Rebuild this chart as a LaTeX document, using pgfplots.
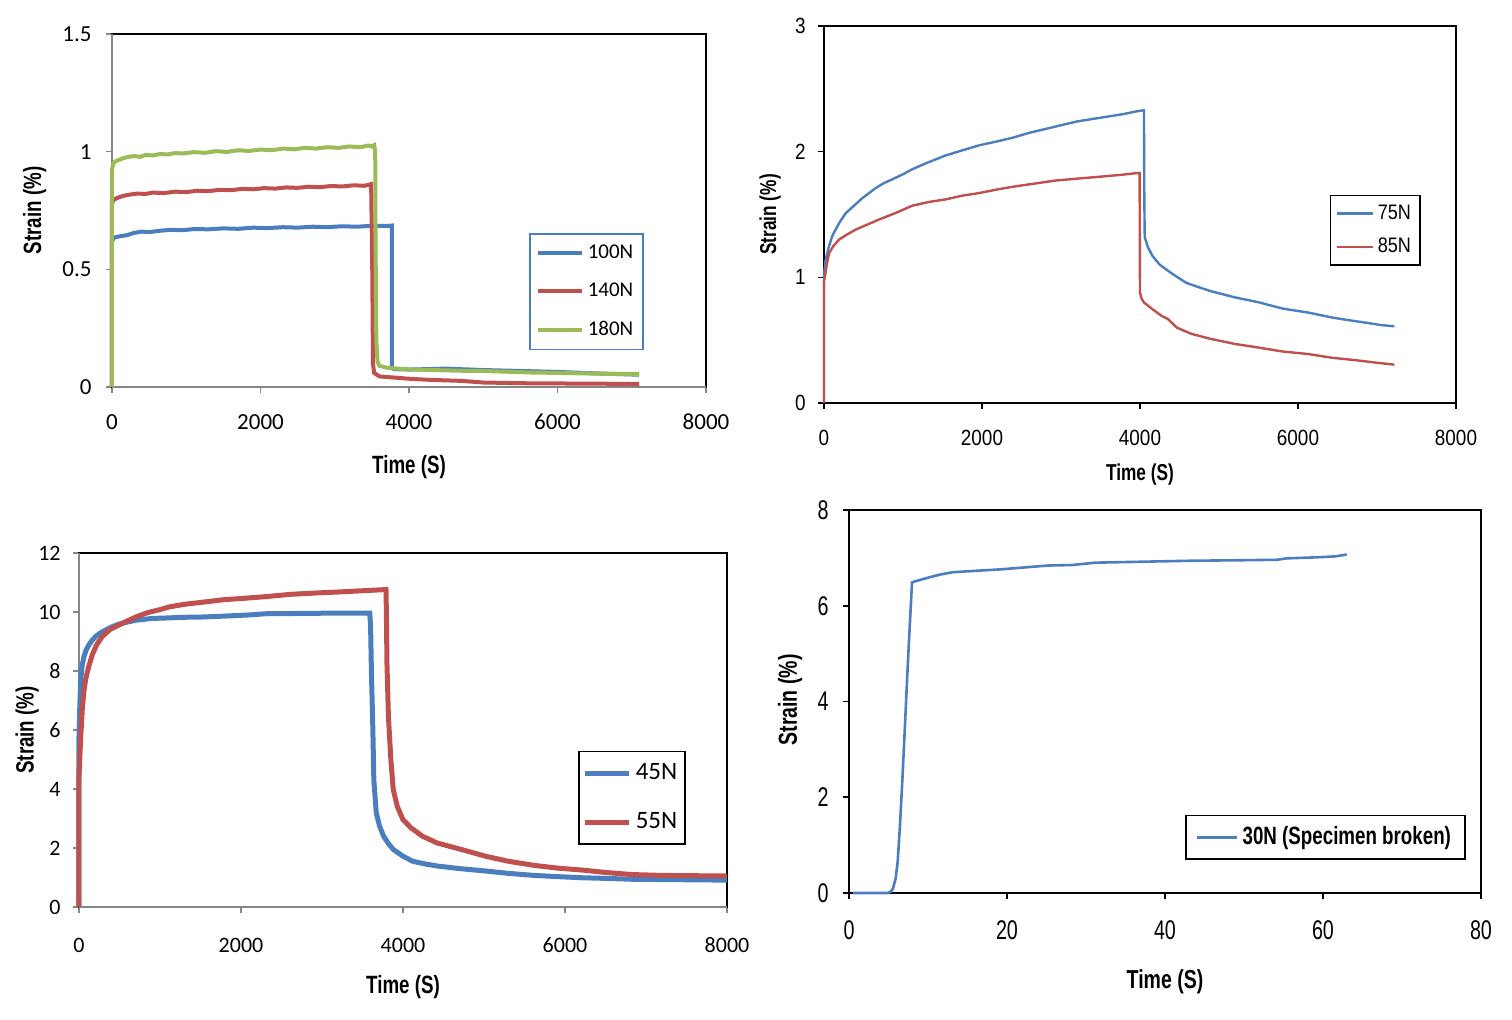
\documentclass[border=0pt]{standalone}
\usepackage{pgfplots}
\pgfplotsset{compat=1.18}
\usepackage{fontspec}
\setmainfont{Liberation Sans}
\newfontfamily\calib{Carlito}
\newfontfamily\narr[FakeStretch=0.86]{Liberation Sans}
\newfontfamily\narrw[FakeStretch=0.73]{Liberation Sans}
\newfontfamily\labf[FakeStretch=0.75]{Liberation Sans}
\definecolor{xblue}{RGB}{74,126,190}
\definecolor{xred}{RGB}{192,80,77}
\definecolor{xgreen}{RGB}{155,187,89}
\definecolor{axgray}{RGB}{134,134,134}
\pgfplotsset{
  myax/.style={scale only axis, anchor=south west, tick align=outside,
    xtick pos=left, ytick pos=left, major tick length=3pt,
    scaled x ticks=false, scaled y ticks=false,
    /pgf/number format/assume math mode=true,
    /pgf/number format/1000 sep={},
    clip=false, legend cell align=left,
    axis line style={black, line width=0.8pt},
    every tick/.style={black, line width=0.8pt},
    xlabel={Time (S)}, ylabel={Strain (\%)},
    label style={font=\labf\bfseries\fontsize{12.5}{13}\selectfont},
    xticklabel style={anchor=center},
    yticklabel style={anchor=east, inner sep=0pt},
  },
}
\begin{document}
\begin{tikzpicture}
\path[use as bounding box] (0,0) rectangle (756pt,510pt);
% ---------------- Panel 1 ----------------
\begin{axis}[myax, at={(56pt,316.5pt)}, width=297pt, height=176.5pt,
  xmin=0, xmax=8000, ymin=0, ymax=1.5,
  xtick={0,2000,4000,6000,8000}, ytick={0,0.5,1,1.5},
  every tick/.style={axgray, line width=0.8pt},
  tick label style={font=\calib\fontsize{11.5}{12}\selectfont},
  xticklabel style={yshift=-14.5pt}, yticklabel style={xshift=-7pt},
  xlabel style={at={(axis description cs:0.5,-0.226)}, anchor=center},
  ylabel style={at={(axis description cs:-0.130,0.5)}, anchor=center},
  legend style={at={(0.702,0.436)}, anchor=north west, draw=xblue, line width=0.8pt,
    font=\calib\fontsize{10.5}{11}\selectfont, row sep=6.8pt, inner xsep=3pt, inner ysep=3.5pt},
  legend image code/.code={\draw[#1] (0pt,0pt) -- (22pt,0pt);},
]
\draw[axgray, line width=0.9pt] (rel axis cs:0,0) -- (rel axis cs:0,1);
\draw[axgray, line width=0.9pt] (rel axis cs:0,0) -- (rel axis cs:1,0);
\addplot[xblue, line width=2pt] coordinates {
(0,0) (0,0.62) (30,0.635) (100,0.640) (200,0.645) (300,0.655) (400,0.660) (500,0.658)
(650,0.664) (800,0.668) (950,0.666) (1100,0.671) (1300,0.670) (1500,0.674) (1700,0.672)
(1900,0.677) (2100,0.675) (2300,0.679) (2500,0.677) (2700,0.681) (2900,0.679) (3100,0.683)
(3300,0.681) (3500,0.685) (3700,0.684) (3770,0.686) (3770,0.08) (3800,0.076) (4000,0.074)
(4500,0.078) (5000,0.072) (5500,0.068) (6000,0.064) (6500,0.058) (7100,0.052)};
\addlegendentry{100N}
\addplot[xred, line width=2pt] coordinates {
(0,0) (0,0.78) (20,0.795) (60,0.802) (150,0.812) (250,0.818) (350,0.822) (450,0.820)
(550,0.826) (700,0.824) (850,0.830) (1000,0.828) (1150,0.834) (1300,0.832) (1450,0.838)
(1600,0.836) (1750,0.842) (1900,0.840) (2050,0.845) (2200,0.843) (2350,0.848) (2500,0.846)
(2650,0.851) (2800,0.849) (2950,0.854) (3100,0.852) (3250,0.857) (3400,0.855) (3490,0.862)
(3505,0.5) (3515,0.1) (3530,0.06) (3600,0.045) (3800,0.040) (4000,0.035) (4300,0.030)
(4700,0.026) (5000,0.019) (5500,0.016) (6000,0.015) (6500,0.014) (7100,0.013)};
\addlegendentry{140N}
\addplot[xgreen, line width=2pt] coordinates {
(0,0) (0,0.925) (15,0.945) (40,0.958) (80,0.963) (150,0.972) (220,0.978) (300,0.981)
(380,0.978) (450,0.986) (550,0.984) (650,0.990) (750,0.988) (850,0.994) (950,0.992)
(1100,0.998) (1250,0.995) (1400,1.002) (1550,0.999) (1700,1.006) (1850,1.003) (2000,1.009)
(2150,1.006) (2300,1.013) (2450,1.010) (2600,1.016) (2750,1.013) (2900,1.019) (3050,1.016)
(3200,1.022) (3350,1.019) (3450,1.026) (3500,1.022) (3530,1.028) (3545,1.0) (3550,0.6)
(3560,0.2) (3575,0.11) (3600,0.09) (3700,0.082) (3850,0.078) (4000,0.075) (4300,0.072)
(4700,0.069) (5000,0.068) (5400,0.064) (5700,0.061) (6000,0.060) (6300,0.058) (6700,0.056)
(7100,0.055)};
\addlegendentry{180N}
\end{axis}
% ---------------- Panel 2 ----------------
\begin{axis}[myax, at={(412pt,308.5pt)}, width=316pt, height=188.5pt,
  xmin=0, xmax=8000, ymin=0, ymax=3,
  xtick={0,2000,4000,6000,8000}, ytick={0,1,2,3},
  tick label style={font=\narr\fontsize{11}{12}\selectfont},
  label style={font=\labf\bfseries\fontsize{11.5}{12}\selectfont},
  xticklabel style={yshift=-14.5pt}, yticklabel style={xshift=-6pt},
  xlabel style={at={(axis description cs:0.5,-0.190)}, anchor=center},
  ylabel style={at={(axis description cs:-0.085,0.5)}, anchor=center},
  legend style={at={(0.80,0.552)}, anchor=north west, draw=black, line width=0.8pt,
    font=\narr\fontsize{10.5}{11}\selectfont, row sep=4pt, inner xsep=2.5pt, inner ysep=2.5pt},
  legend image code/.code={\draw[#1] (0pt,0pt) -- (18pt,0pt);},
]
\addplot[xblue, line width=1.2pt] coordinates {
(0,0) (0,1.02) (21,1.14) (60,1.24) (105,1.33) (190,1.43) (274,1.51) (380,1.57) (485,1.63)
(570,1.67) (654,1.71) (760,1.75) (865,1.78) (1000,1.82) (1118,1.86) (1300,1.91) (1540,1.97)
(1750,2.01) (1962,2.05) (2180,2.08) (2384,2.11) (2600,2.15) (2800,2.18) (3000,2.21)
(3200,2.24) (3400,2.26) (3600,2.28) (3800,2.30) (3950,2.32) (4050,2.33) (4055,1.6)
(4060,1.32) (4100,1.24) (4158,1.17) (4250,1.10) (4404,1.03) (4588,0.955) (4750,0.92)
(4895,0.89) (5050,0.865) (5203,0.84) (5360,0.82) (5510,0.80) (5660,0.775) (5817,0.75)
(5970,0.735) (6124,0.72) (6280,0.70) (6431,0.68) (6580,0.665) (6738,0.65) (6900,0.635)
(7050,0.62) (7220,0.61)};
\addlegendentry{75N}
\addplot[xred, line width=1.2pt] coordinates {
(0,0) (0,0.97) (13,1.01) (35,1.10) (63,1.19) (120,1.25) (190,1.30) (290,1.34) (401,1.38)
(550,1.42) (696,1.46) (900,1.51) (1118,1.57) (1330,1.60) (1540,1.62) (1750,1.65)
(1962,1.67) (2200,1.70) (2384,1.72) (2600,1.74) (2930,1.77) (3200,1.785) (3483,1.80)
(3750,1.815) (3974,1.83) (3995,1.83) (4000,0.88) (4020,0.83) (4050,0.80) (4150,0.75)
(4281,0.69) (4350,0.67) (4400,0.64) (4466,0.60) (4650,0.55) (4895,0.51) (5200,0.47)
(5510,0.44) (5800,0.41) (6124,0.39) (6430,0.36) (6738,0.34) (7000,0.32) (7220,0.305)};
\addlegendentry{85N}
\end{axis}
% ---------------- Panel 3 ----------------
\begin{axis}[myax, at={(39.5pt,56.5pt)}, width=324pt, height=177pt,
  xmin=0, xmax=8000, ymin=0, ymax=12,
  xtick={0,2000,4000,6000,8000}, ytick={0,2,4,6,8,10,12},
  every tick/.style={axgray, line width=0.8pt},
  tick label style={font=\calib\fontsize{11}{12}\selectfont},
  xticklabel style={yshift=-16pt}, yticklabel style={xshift=-6pt},
  xlabel style={at={(axis description cs:0.5,-0.226)}, anchor=center},
  ylabel style={at={(axis description cs:-0.080,0.5)}, anchor=center},
  legend style={at={(0.770,0.441)}, anchor=north west, draw=black, line width=0.8pt,
    font=\calib\fontsize{12.5}{13}\selectfont, row sep=11pt, inner xsep=2pt, inner ysep=4pt},
  legend image code/.code={\draw[#1] (0pt,0pt) -- (22pt,0pt);},
]
\draw[axgray, line width=0.9pt] (rel axis cs:0,0) -- (rel axis cs:0,1);
\draw[axgray, line width=0.9pt] (rel axis cs:0,0) -- (rel axis cs:1,0);
\addplot[xblue, line width=2.5pt] coordinates {
(0,0) (0,5.8) (10,6.8) (21,7.72) (40,8.2) (62,8.5) (90,8.72) (123,8.89) (160,9.03)
(206,9.17) (260,9.28) (329,9.39) (410,9.50) (494,9.59) (600,9.66) (700,9.72) (900,9.78)
(1111,9.80) (1300,9.82) (1522,9.83) (1800,9.86) (2100,9.90) (2304,9.94) (2700,9.95)
(3100,9.96) (3590,9.96) (3600,9.5) (3610,8.0) (3628,6.0) (3640,4.3) (3670,3.19)
(3710,2.75) (3760,2.40) (3820,2.15) (3880,1.95) (4000,1.72) (4120,1.55) (4270,1.46)
(4420,1.39) (4700,1.30) (5019,1.22) (5300,1.14) (5619,1.07) (5900,1.03) (6219,0.99)
(6500,0.97) (6819,0.94) (7200,0.93) (7600,0.92) (8000,0.91)};
\addlegendentry{45N}
\addplot[xred, line width=2.5pt] coordinates {
(0,0) (0,4.4) (20,5.7) (41,6.72) (60,7.3) (82,7.72) (120,8.15) (165,8.56) (220,8.9)
(288,9.17) (380,9.40) (494,9.56) (600,9.70) (700,9.83) (850,9.98) (1000,10.08) (1111,10.17)
(1300,10.26) (1522,10.33) (1800,10.42) (2021,10.46) (2304,10.52) (2621,10.60) (2900,10.64)
(3220,10.68) (3500,10.72) (3790,10.76) (3795,10.0) (3802,8.26) (3820,6.46) (3850,5.0)
(3880,3.98) (3930,3.4) (4000,2.96) (4100,2.68) (4240,2.40) (4420,2.17) (4720,1.95)
(5019,1.72) (5300,1.55) (5619,1.41) (5900,1.32) (6219,1.25) (6500,1.17) (6819,1.10)
(7200,1.07) (7600,1.06) (8000,1.05)};
\addlegendentry{55N}
\end{axis}
% ---------------- Panel 4 ----------------
\begin{axis}[myax, at={(424.5pt,63.5pt)}, width=316pt, height=191.5pt,
  xmin=0, xmax=80, ymin=0, ymax=8,
  xtick={0,20,40,60,80}, ytick={0,2,4,6,8},
  tick label style={font=\narrw\fontsize{13.5}{14}\selectfont},
  label style={font=\labf\bfseries\fontsize{13}{14}\selectfont},
  xticklabel style={yshift=-15.5pt}, yticklabel style={xshift=-7pt},
  xlabel style={at={(axis description cs:0.5,-0.232)}, anchor=center},
  ylabel style={at={(axis description cs:-0.093,0.504)}, anchor=center},
  legend style={at={(0.532,0.204)}, anchor=north west, draw=black, line width=0.8pt,
    font=\labf\bfseries\fontsize{12.5}{13}\selectfont, inner xsep=5pt, inner ysep=3.5pt},
  legend image code/.code={\draw[#1] (0pt,0pt) -- (20pt,0pt);},
]
\addplot[xblue, line width=1.3pt] coordinates {
(0.5,0) (4.9,0) (5.3,0.03) (5.56,0.09) (5.9,0.3) (6.16,0.65) (6.45,1.4) (6.77,2.41)
(7.07,3.45) (7.37,4.52) (7.68,5.55) (7.98,6.49) (8.58,6.52) (10.1,6.59) (11.5,6.65)
(13.1,6.70) (16.1,6.73) (19.2,6.76) (22.2,6.80) (25.2,6.84) (28.2,6.85) (31.2,6.90)
(37.3,6.92) (43.3,6.94) (49.4,6.95) (54.2,6.96) (55.4,6.99) (59.0,7.01) (61.5,7.03) (63.0,7.07)};
\addlegendentry{30N (Specimen broken)}
\end{axis}
\end{tikzpicture}
\end{document}
